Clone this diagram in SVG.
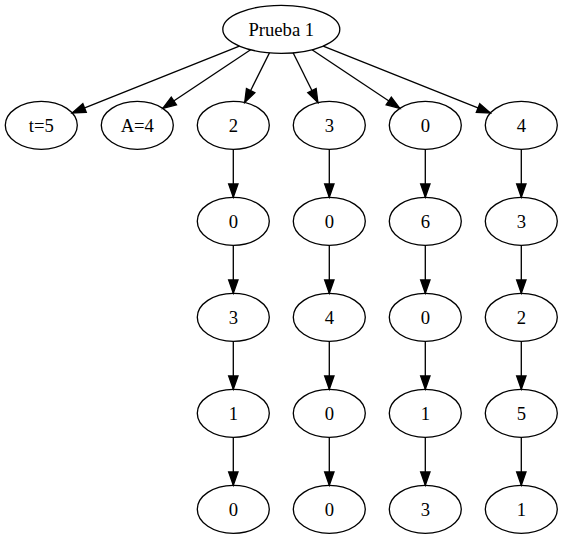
<svg xmlns="http://www.w3.org/2000/svg" width="563" height="539" viewBox="0 0 563 539">
  <style>
    .node ellipse { fill: none; stroke: #000; stroke-width: 1.33; }
    .node text { font-family: "Liberation Serif", "Times New Roman", serif; font-size: 18.67px; text-anchor: middle; fill: #000; }
    .edge { stroke: #000; stroke-width: 1.33; fill: none; marker-end: url(#arrow); }
  </style>
  <defs>
    <marker id="arrow" markerUnits="userSpaceOnUse" markerWidth="16" markerHeight="12" refX="13.3" refY="4.67" orient="auto" overflow="visible">
      <path d="M0,0 L13.3,4.67 L0,9.33 Z" fill="#000" stroke="#000" stroke-width="1.33"/>
    </marker>
  </defs>
  <rect width="563" height="539" fill="#fff"/>

  <!-- connectors -->
  <g id="edges">
    <line class="edge" x1="239.4" y1="46.1" x2="72.2" y2="112.9"/>
    <line class="edge" x1="250.6" y1="49.7" x2="162.8" y2="108.3"/>
    <line class="edge" x1="269.5" y1="52.8" x2="244.7" y2="102.5"/>
    <line class="edge" x1="293.1" y1="52.8" x2="317.9" y2="102.5"/>
    <line class="edge" x1="312.0" y1="49.7" x2="399.8" y2="108.3"/>
    <line class="edge" x1="323.2" y1="46.1" x2="490.4" y2="112.9"/>

    <line class="edge" x1="233.3" y1="149.3" x2="233.3" y2="197.3"/>
    <line class="edge" x1="233.3" y1="245.3" x2="233.3" y2="293.3"/>
    <line class="edge" x1="233.3" y1="341.3" x2="233.3" y2="389.3"/>
    <line class="edge" x1="233.3" y1="437.3" x2="233.3" y2="485.3"/>

    <line class="edge" x1="329.3" y1="149.3" x2="329.3" y2="197.3"/>
    <line class="edge" x1="329.3" y1="245.3" x2="329.3" y2="293.3"/>
    <line class="edge" x1="329.3" y1="341.3" x2="329.3" y2="389.3"/>
    <line class="edge" x1="329.3" y1="437.3" x2="329.3" y2="485.3"/>

    <line class="edge" x1="425.3" y1="149.3" x2="425.3" y2="197.3"/>
    <line class="edge" x1="425.3" y1="245.3" x2="425.3" y2="293.3"/>
    <line class="edge" x1="425.3" y1="341.3" x2="425.3" y2="389.3"/>
    <line class="edge" x1="425.3" y1="437.3" x2="425.3" y2="485.3"/>

    <line class="edge" x1="521.3" y1="149.3" x2="521.3" y2="197.3"/>
    <line class="edge" x1="521.3" y1="245.3" x2="521.3" y2="293.3"/>
    <line class="edge" x1="521.3" y1="341.3" x2="521.3" y2="389.3"/>
    <line class="edge" x1="521.3" y1="437.3" x2="521.3" y2="485.3"/>
  </g>

  <!-- root -->
  <g id="root" class="node"><ellipse cx="281.3" cy="29.3" rx="58.5" ry="24"/><text x="281.3" y="35.5">Prueba 1</text></g>

  <!-- first level -->
  <g id="t5" class="node"><ellipse cx="41.3" cy="125.3" rx="36" ry="24"/><text x="41.3" y="131.5">t=5</text></g>
  <g id="a4" class="node"><ellipse cx="137.3" cy="125.3" rx="36" ry="24"/><text x="137.3" y="131.5">A=4</text></g>

  <!-- column 1 -->
  <g id="c1r1" class="node"><ellipse cx="233.3" cy="125.3" rx="36" ry="24"/><text x="233.3" y="131.5">2</text></g>
  <g id="c1r2" class="node"><ellipse cx="233.3" cy="221.3" rx="36" ry="24"/><text x="233.3" y="227.5">0</text></g>
  <g id="c1r3" class="node"><ellipse cx="233.3" cy="317.3" rx="36" ry="24"/><text x="233.3" y="323.5">3</text></g>
  <g id="c1r4" class="node"><ellipse cx="233.3" cy="413.3" rx="36" ry="24"/><text x="233.3" y="419.5">1</text></g>
  <g id="c1r5" class="node"><ellipse cx="233.3" cy="509.3" rx="36" ry="24"/><text x="233.3" y="515.5">0</text></g>

  <!-- column 2 -->
  <g id="c2r1" class="node"><ellipse cx="329.3" cy="125.3" rx="36" ry="24"/><text x="329.3" y="131.5">3</text></g>
  <g id="c2r2" class="node"><ellipse cx="329.3" cy="221.3" rx="36" ry="24"/><text x="329.3" y="227.5">0</text></g>
  <g id="c2r3" class="node"><ellipse cx="329.3" cy="317.3" rx="36" ry="24"/><text x="329.3" y="323.5">4</text></g>
  <g id="c2r4" class="node"><ellipse cx="329.3" cy="413.3" rx="36" ry="24"/><text x="329.3" y="419.5">0</text></g>
  <g id="c2r5" class="node"><ellipse cx="329.3" cy="509.3" rx="36" ry="24"/><text x="329.3" y="515.5">0</text></g>

  <!-- column 3 -->
  <g id="c3r1" class="node"><ellipse cx="425.3" cy="125.3" rx="36" ry="24"/><text x="425.3" y="131.5">0</text></g>
  <g id="c3r2" class="node"><ellipse cx="425.3" cy="221.3" rx="36" ry="24"/><text x="425.3" y="227.5">6</text></g>
  <g id="c3r3" class="node"><ellipse cx="425.3" cy="317.3" rx="36" ry="24"/><text x="425.3" y="323.5">0</text></g>
  <g id="c3r4" class="node"><ellipse cx="425.3" cy="413.3" rx="36" ry="24"/><text x="425.3" y="419.5">1</text></g>
  <g id="c3r5" class="node"><ellipse cx="425.3" cy="509.3" rx="36" ry="24"/><text x="425.3" y="515.5">3</text></g>

  <!-- column 4 -->
  <g id="c4r1" class="node"><ellipse cx="521.3" cy="125.3" rx="36" ry="24"/><text x="521.3" y="131.5">4</text></g>
  <g id="c4r2" class="node"><ellipse cx="521.3" cy="221.3" rx="36" ry="24"/><text x="521.3" y="227.5">3</text></g>
  <g id="c4r3" class="node"><ellipse cx="521.3" cy="317.3" rx="36" ry="24"/><text x="521.3" y="323.5">2</text></g>
  <g id="c4r4" class="node"><ellipse cx="521.3" cy="413.3" rx="36" ry="24"/><text x="521.3" y="419.5">5</text></g>
  <g id="c4r5" class="node"><ellipse cx="521.3" cy="509.3" rx="36" ry="24"/><text x="521.3" y="515.5">1</text></g>
</svg>
